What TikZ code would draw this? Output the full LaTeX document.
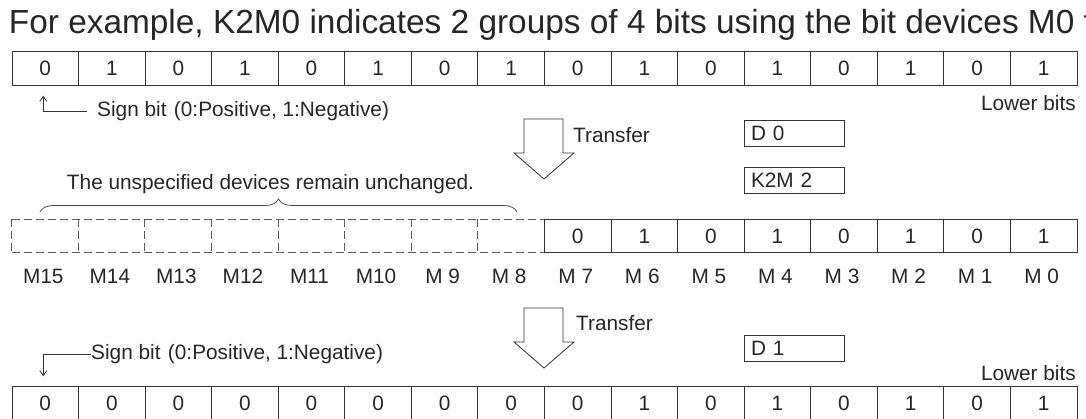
\documentclass[tikz,border=0pt]{standalone}
\usepackage{fontspec}
\setmainfont{Liberation Sans}
\usetikzlibrary{
  calc, % For coordinate calculations
  positioning, % For relative placement
  arrows.meta, % For arrow tips
  decorations.pathreplacing % For the brace
}

\begin{document}
\begin{tikzpicture}[
      x=1pt, y=-1pt, % Pixel-like coordinates, y downwards
      >={Straight Barb[length=5pt, width=7pt]}, % Default arrow tip
      txt/.style={inner sep=0pt, text=black!85, font=\fontsize{20.8}{24}\selectfont}, % Style for labels
      cell/.style={txt, draw=black!80, line width=0.9pt, minimum width=66.56pt, minimum height=33.5pt}, % Style for bit cells
      ghost/.style={txt, minimum width=66.56pt, minimum height=33.5pt}, % Style for unchanged cells
      ghostline/.style={draw=black!65, line width=0.9pt, dash pattern=on 8pt off 4pt}, % Dashed outline
      devbox/.style={txt, draw=black!80, line width=0.9pt, minimum width=100pt, minimum height=26pt,
        text width=86pt, inner xsep=7pt, align=left}, % Style for device boxes
      transfer/.style={draw=black!80, line width=0.8pt, line join=miter}, % Style for transfer arrows
      pointer/.style={draw=black!80, line width=0.8pt, ->}, % Style for sign bit pointers
      keepbrace/.style={draw=black!70, line width=0.8pt, decorate, decoration={brace, amplitude=13pt}},
    ]

    \useasboundingbox (0,0) rectangle (1086,419);
    \clip (0,0) rectangle (1086,419);

    % Sizes
    \def\cw{66.56}
    \def\xo{12}

    % Title
    \node[anchor=base west, inner sep=0pt, text=black!85, font=\fontsize{33.4}{40}\selectfont] (title) at (8.7,34)
    {For example, K2M0 indicates 2 groups of 4 bits using the bit devices M0 t};

    % Source word D0
    \foreach \v [count=\i from 0] in {0,1,0,1,0,1,0,1,0,1,0,1,0,1,0,1}
    \node[cell] (a\i) at ({\xo+\cw*(\i+0.5)}, 68.5) {\v};

    \node[txt, anchor=base west] (sgnA) at (97,117) {Sign bit};
    \node[txt, base right=7pt of sgnA] (posA) {(0:Positive, 1:Negative)};
    \draw[pointer] ([xshift=-10pt]sgnA.west) -| ([xshift=-2pt, yshift=-10pt]a0.south);
    \node[txt, anchor=base east] (lowA) at (1076,110.5) {Lower bits};

    % Transfer arrows
    \foreach \ty in {119, 308}
    \draw[transfer] (524,\ty) -- (563,\ty) -- (563,\ty+34) -- (574,\ty+34)
    -- (544,\ty+60) -- (514,\ty+34) -- (524,\ty+34) -- cycle;
    \node[txt, anchor=base west] (trA) at (573,142.5) {Transfer};
    \node[txt, anchor=base west] (trB) at (576,330.5) {Transfer};

    % Device boxes
    \node[devbox] (d0) at (794,133.3) {D 0};
    \node[devbox] (k2m2) at (794,180.3) {K2M 2};
    \node[devbox] (d1) at (794,348) {D 1};

    % Bit devices M15 ... M0
    \coordinate (brL) at (40,212);
    \coordinate (brR) at (517,212);
    \draw[keepbrace] (brL) -- (brR);
    \node[txt, anchor=base] (keep) at (270.5,189.5) {The unspecified devices remain unchanged.};

    \foreach \i in {0,...,7}
    \node[ghost] (b\i) at ({\xo+\cw*(\i+0.5)}, 236) {};
    \draw[ghostline] (b0.north west) -- (b7.north east);
    \draw[ghostline] (b0.south west) -- (b7.south east);
    \foreach \i in {0,...,7}
    \draw[ghostline] (b\i.north west) -- (b\i.south west);
    \foreach \v [count=\i from 8] in {0,1,0,1,0,1,0,1}
    \node[cell] (b\i) at ({\xo+\cw*(\i+0.5)}, 236) {\v};

    \foreach \m [count=\i from 0] in {M15,M14,M13,M12,M11,M10,M 9,M 8,M 7,M 6,M 5,M 4,M 3,M 2,M 1,M 0}
    \node[txt, anchor=base] (m\i) at ({\xo+\cw*(\i+0.5)-2}, 284) {\m};

    % Destination word D1
    \foreach \v [count=\i from 0] in {0,0,0,0,0,0,0,0,0,1,0,1,0,1,0,1}
    \node[cell] (c\i) at ({\xo+\cw*(\i+0.5)}, 403) {\v};

    \node[txt, anchor=base west] (sgnB) at (91,359.5) {Sign bit};
    \node[txt, base right=7pt of sgnB] (posB) {(0:Positive, 1:Negative)};
    \draw[pointer] (sgnB.west) -| ([xshift=-2pt, yshift=9.5pt]c0.north);
    \node[txt, anchor=base east] (lowB) at (1076,380.5) {Lower bits};

  \end{tikzpicture}
\end{document}
